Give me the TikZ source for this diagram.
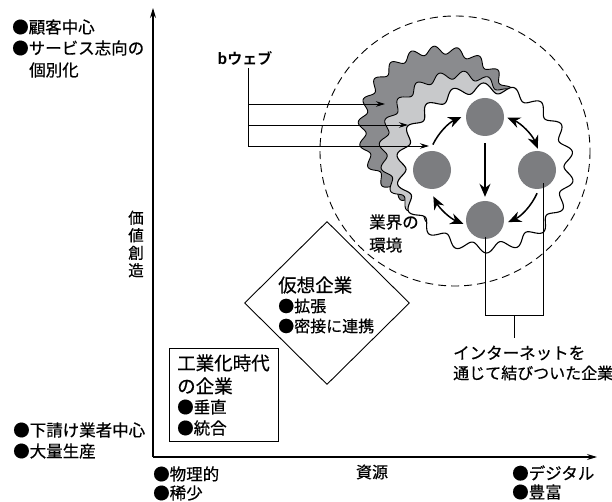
\documentclass[tikz,border=0pt]{standalone}
\usepackage{fontspec}
\setmainfont{Noto Sans CJK JP}[FakeBold=0.5]
\newfontfamily\boldjp{Noto Sans CJK JP Bold}
\usetikzlibrary{arrows.meta,shapes.geometric,calc}
\definecolor{cdot}{RGB}{124,125,128}
\definecolor{cdark}{RGB}{138,139,142}
\definecolor{clight}{RGB}{200,201,203}
\begin{document}
\begin{tikzpicture}[x=1pt,y=-1pt,
  txt/.style={inner sep=0, font=\fontsize{16.5}{20}\selectfont, anchor=west},
  head/.style={inner sep=0, font=\fontsize{18.5}{22}\selectfont, anchor=west},
  axisline/.style={line width=1.1pt, -{Stealth[length=10pt,width=6pt]}},
  thinline/.style={line width=0.9pt},
  warrow/.style={line width=0.9pt, -{Stealth[length=9pt,width=5.5pt]}},
  carrow/.style={line width=1.5pt, -{Stealth[length=13pt,width=11pt]}},
  dcarrow/.style={line width=1.5pt, {Stealth[length=13pt,width=11pt]}-{Stealth[length=13pt,width=11pt]}},
  dotnode/.style={circle, fill=cdot, minimum size=38pt, inner sep=0},
  blob/.style={draw=black, line width=0.9pt},
]
\useasboundingbox (0,0) rectangle (612,502);

% axes
\coordinate (O) at (153,457);
\coordinate (ytop) at (153,8);
\coordinate (xend) at (597,457);
\draw[axisline] (O) -- (ytop);
\draw[axisline] (O) -- (xend);

% dashed environment circle
\draw[dashed, dash pattern=on 8pt off 5pt, line width=0.9pt] (455,151) circle[radius=135];

% blobs
\begin{scope}[shift={(440,128)}]
\filldraw[blob, fill=cdark] plot[domain=0:359, samples=360] (\x:{78+4*sin(22*\x)}) -- cycle;
\end{scope}
\begin{scope}[shift={(458,150)}]
\filldraw[blob, fill=clight] plot[domain=0:359, samples=360] (\x:{75+4*sin(20*\x)}) -- cycle;
\end{scope}
\begin{scope}[shift={(485,168)}]
\filldraw[blob, fill=white, line width=1.1pt] plot[domain=0:359, samples=360] ({(84+5*sin(18*(\x-4)))*cos(\x)},{(80+5*sin(18*(\x-4)))*sin(\x)}) -- cycle;
\end{scope}

% companies
\node[dotnode] (t) at (485,117) {};
\node[dotnode] (l) at (432,170) {};
\node[dotnode] (r) at (537,170) {};
\node[dotnode] (b) at (485,220) {};
\coordinate (ctr) at (485,170);

\draw[carrow, shorten <=7pt, shorten >=4pt] (t) -- (b);
\draw[carrow] ($(ctr)+(206:58)$) arc[start angle=206, end angle=246, radius=58];
\draw[dcarrow] ($(ctr)+(293:57)$) arc[start angle=293, end angle=338, radius=57];
\draw[dcarrow] ($(ctr)+(153:58)$) arc[start angle=153, end angle=112, radius=58];
\draw[carrow] ($(ctr)+(24:57)$) arc[start angle=24, end angle=66, radius=57];

% b-web
\node[inner sep=0, font=\boldjp\fontsize{15}{18}\selectfont] (web) at (245,58) {bウェブ};
\coordinate (wtop) at (248,68);
\coordinate (wa) at (248,104);
\coordinate (wb) at (248,125);
\coordinate (wc) at (248,146);
\coordinate (ta) at (385,104);
\coordinate (tb) at (408,125);
\coordinate (tc) at (429,146);
\draw[thinline] (wtop) -- (wc);
\draw[warrow] (wa) -- (ta);
\draw[warrow] (wb) -- (tb);
\draw[warrow] (wc) -- (tc);

% internet connected companies
\coordinate (j1) at (485,315);
\coordinate (j2) at (543,315);
\coordinate (jm) at (514,315);
\coordinate (jt) at (514,338);
\draw[thinline] ($(b.center)+(0,17)$) -- (j1) -- (j2) -- ($(r.center)+(6,13)$);
\draw[thinline] (jm) -- (jt);
\node[txt] (net1) at (453,353) {インターネットを};
\node[txt, font=\fontsize{16}{20}\selectfont] (net2) at (453,373) {通じて結びついた企業};

% industry environment
\node[txt] (env1) at (369,222) {業界の};
\node[txt] (env2) at (369,245) {環境};

% virtual enterprise
\node[draw, diamond, minimum width=165pt, minimum height=163pt, inner sep=0, line width=0.9pt] (vd) at (327,303) {};
\node[head] (v1) at (278,285) {仮想企業};
\node[txt, font=\fontsize{16}{20}\selectfont] (v2) at (278,306) {●拡張};
\node[txt, font=\fontsize{16}{20}\selectfont] (v3) at (278,326) {●密接に連携};

% industrial age
\node[draw, line width=0.9pt, minimum width=109pt, minimum height=93pt, inner sep=0, anchor=north west] (ind) at (169,348) {};
\node[head] (i1) at (177,363) {工業化時代};
\node[head] (i2) at (177,386) {の企業};
\node[txt] (i3) at (177,407) {●垂直};
\node[txt] (i4) at (177,428) {●統合};

% axis labels
\node[inner sep=0, font=\fontsize{15.5}{17.5}\selectfont, align=center] (val) at (136,244) {価\\値\\創\\造};
\node[inner sep=0, font=\fontsize{16}{18}\selectfont] (res) at (372,472) {資源};

\node[txt] (tl1) at (12,27) {●顧客中心};
\node[txt] (tl2) at (12,48) {●サービス志向の};
\node[txt] (tl3) at (29,70) {個別化};
\node[txt] (bl1) at (13,430) {●下請け業者中心};
\node[txt] (bl2) at (13,451) {●大量生産};
\node[txt] (x1) at (153,474) {●物理的};
\node[txt] (x2) at (153,493) {●稀少};
\node[txt] (x3) at (512,473) {●デジタル};
\node[txt] (x4) at (512,492) {●豊富};
\end{tikzpicture}
\end{document}
